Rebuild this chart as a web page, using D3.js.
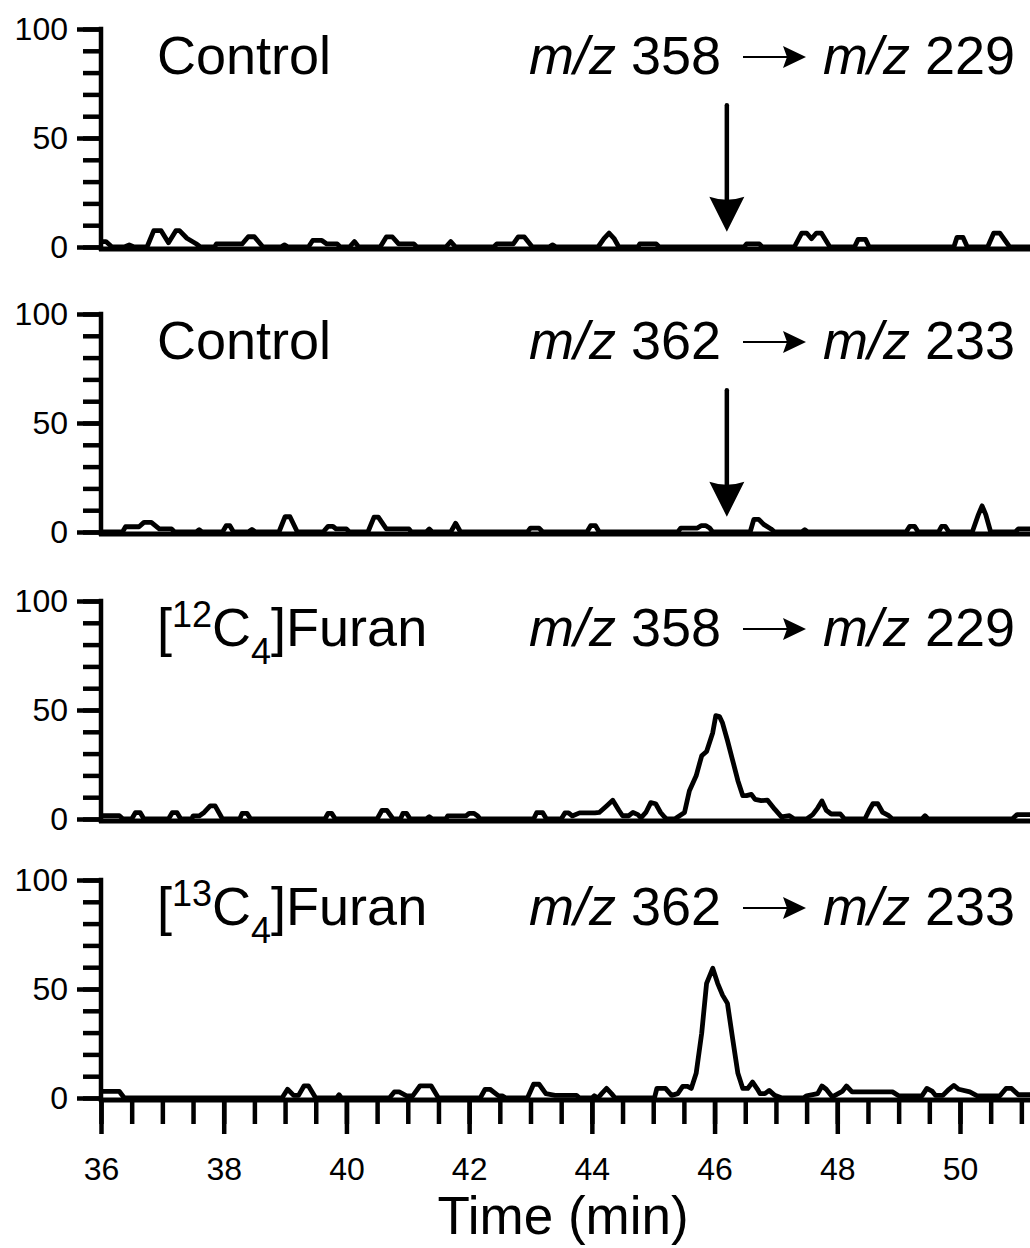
<!DOCTYPE html>
<html>
<head>
<meta charset="utf-8">
<script src="https://cdn.jsdelivr.net/npm/d3@7"></script>
<style>
  body { margin: 0; background: #fff; }
  text { font-family: 'Liberation Sans', Arial, sans-serif; fill: #000; }
</style>
</head>
<body>
<div id="chart"></div>
<script>
// time (min), relative abundance (%)
var control358 = [[36.0,2.5],[36.08,2.5],[36.18,0],[36.38,0],[36.46,1],[36.54,0],[36.75,0],[36.86,7.5],[36.98,7.5],[37.1,2],[37.22,7.5],[37.28,7.5],[37.4,4],[37.55,1.5],[37.62,0],[37.85,0],[37.88,1.4],[38.3,1.4],[38.4,4.7],[38.5,4.7],[38.64,0],[38.93,0],[38.99,1],[39.05,0],[39.38,0],[39.45,3],[39.6,3],[39.68,1.4],[39.85,1.4],[39.9,0],[40.05,0],[40.13,2.5],[40.2,0],[40.55,0],[40.65,4.6],[40.75,4.6],[40.85,1.4],[41.1,1.4],[41.15,0],[41.62,0],[41.7,2.5],[41.78,0],[42.4,0],[42.45,1.4],[42.72,1.4],[42.8,4.6],[42.9,4.6],[43.03,0],[43.3,0],[43.36,1],[43.42,0],[44.1,0],[44.2,4],[44.28,6.4],[44.36,4],[44.44,0],[44.75,0],[44.78,1.4],[45.05,1.4],[45.1,0],[46.48,0],[46.52,1.4],[46.73,1.4],[46.78,0],[47.3,0],[47.42,6.4],[47.5,6.4],[47.58,3.8],[47.66,6.4],[47.74,6.4],[47.88,0],[48.28,0],[48.34,3.5],[48.46,3.5],[48.52,0],[49.9,0],[49.95,4.4],[50.05,4.4],[50.12,0],[50.45,0],[50.55,6.4],[50.65,6.4],[50.81,0],[51.2,0]];

var control362 = [[36.0,0],[36.35,0],[36.4,2.4],[36.62,2.4],[36.7,4.4],[36.82,4.4],[36.95,1.4],[37.15,1.4],[37.2,0],[37.55,0],[37.6,1],[37.65,0],[37.98,0],[38.04,2.9],[38.1,2.9],[38.16,0],[38.4,0],[38.46,1.2],[38.52,0],[38.9,0],[39.0,7],[39.08,7],[39.2,0],[39.62,0],[39.7,2.6],[39.78,2.6],[39.83,1.4],[40.0,1.4],[40.05,0],[40.35,0],[40.45,6.8],[40.52,6.8],[40.65,1.4],[41.02,1.4],[41.06,0],[41.3,0],[41.35,1.4],[41.4,0],[41.7,0],[41.78,4],[41.86,0],[42.95,0],[43.0,1.8],[43.14,1.8],[43.2,0],[43.92,0],[43.98,2.9],[44.06,2.9],[44.12,0],[45.4,0],[45.45,1.8],[45.72,1.8],[45.78,2.9],[45.86,2.9],[45.92,1.8],[45.97,0],[46.58,0],[46.64,5.8],[46.72,5.8],[46.8,3.5],[46.92,1.4],[46.98,0],[47.42,0],[47.47,1],[47.52,0],[49.12,0],[49.18,2.6],[49.26,2.6],[49.32,0],[49.65,0],[49.7,2.6],[49.76,2.6],[49.82,0],[50.2,0],[50.3,8],[50.36,12],[50.42,8],[50.5,0],[50.9,0],[50.95,1.4],[51.2,1.4]];

var furan12 = [[36.0,1.5],[36.3,1.5],[36.36,0],[36.5,0],[36.56,2.9],[36.64,2.9],[36.7,0],[37.1,0],[37.16,2.9],[37.24,2.9],[37.3,0],[37.48,0],[37.5,1.4],[37.6,1.4],[37.68,3],[37.78,6],[37.86,6],[37.98,0],[38.26,0],[38.3,2.6],[38.38,2.6],[38.44,0],[39.65,0],[39.7,2.6],[39.76,2.6],[39.82,0],[40.5,0],[40.58,4],[40.66,4],[40.76,0],[40.88,0],[40.92,2.6],[40.98,2.6],[41.04,0],[41.3,0],[41.35,1],[41.4,0],[41.62,0],[41.65,1.4],[41.95,1.4],[42.0,2.6],[42.08,2.6],[42.14,1.4],[42.18,0],[43.05,0],[43.1,2.9],[43.2,2.9],[43.26,0],[43.5,0],[43.56,2.8],[43.62,2.8],[43.68,1.4],[43.8,2.8],[44.05,2.8],[44.12,3],[44.24,6],[44.34,8.6],[44.44,4],[44.5,1.5],[44.6,1.5],[44.67,3],[44.75,2],[44.8,0.5],[44.88,3],[44.96,7.5],[45.04,7],[45.12,3],[45.18,1],[45.22,0],[45.35,0],[45.43,1.5],[45.51,3],[45.59,13],[45.7,19.8],[45.79,29],[45.87,31],[45.97,39.6],[46.02,47.4],[46.08,47],[46.13,44],[46.21,36],[46.29,27.4],[46.38,17.6],[46.46,10.7],[46.52,10.7],[46.6,11.3],[46.66,9],[46.76,8.4],[46.86,8.7],[46.98,4.5],[47.09,1],[47.22,1.5],[47.3,0],[47.5,0],[47.6,2],[47.68,5],[47.75,8.3],[47.82,4],[47.9,2.3],[48.05,2.3],[48.12,0],[48.45,0],[48.52,4],[48.58,7],[48.66,7],[48.74,3],[48.84,1.5],[48.9,0],[49.38,0],[49.43,1.5],[49.48,0],[50.85,0],[50.93,2],[51.2,2]];

var furan13 = [[36.0,3],[36.3,3],[36.38,0],[38.95,0],[39.04,4],[39.14,1.2],[39.22,1.2],[39.31,5.6],[39.38,5.6],[39.5,0],[39.84,0],[39.88,1.5],[39.92,0],[40.7,0],[40.78,2.8],[40.86,2.8],[40.98,1],[41.08,1],[41.2,5.6],[41.38,5.6],[41.5,0],[42.18,0],[42.26,4],[42.34,4],[42.48,1],[42.54,1],[42.6,0],[42.95,0],[43.05,6.3],[43.14,6.3],[43.25,2],[43.4,1.2],[43.75,1.2],[43.8,0],[44.0,0],[44.04,1],[44.1,0],[44.16,2],[44.24,4.4],[44.32,2],[44.38,0],[45.02,0],[45.06,4.4],[45.2,4.4],[45.3,1.2],[45.4,2],[45.48,5.3],[45.56,5.3],[45.62,4.4],[45.7,11.3],[45.79,29.7],[45.87,52.6],[45.97,59.5],[46.05,52.6],[46.13,47.2],[46.21,43.4],[46.29,28],[46.38,11.3],[46.46,4.4],[46.54,4.4],[46.62,7.3],[46.7,4],[46.74,2],[46.82,2],[46.89,3.5],[46.98,1.2],[47.1,0],[47.45,0],[47.5,1],[47.68,2],[47.75,5.5],[47.82,4],[47.92,0.5],[48.08,3],[48.15,5.5],[48.24,2.8],[48.9,2.8],[49.0,1],[49.38,1],[49.46,4.4],[49.55,3],[49.6,1.2],[49.72,1.2],[49.82,4],[49.9,5.8],[49.98,4],[50.16,2.8],[50.28,1],[50.65,1],[50.75,4.4],[50.84,4.4],[50.95,1.5],[51.2,1.5]];

var traces = [control358, control362, furan12, furan13];
var sampleNames = ["Control", "Control", "Furan", "Furan"];
var isotopeLabels = [null, null, "12", "13"];
var precursorIons = ["358", "362", "358", "362"];
var productIons = ["229", "233", "229", "233"];
var markedPanels = [0, 1];          // panels with the downward arrow
var markTime = 46.2, markFrom = 65, markTo = 7;
var yMajorTicks = [0, 50, 100];
var yMinorTicks = [0, 10, 20, 30, 40, 50, 60, 70, 80, 90, 100];
var xMajorTicks = [36, 38, 40, 42, 44, 46, 48, 50];
var xMinorTicks = [36, 36.5, 37, 37.5, 38, 38.5, 39, 39.5, 40, 40.5, 41, 41.5, 42, 42.5, 43, 43.5, 44, 44.5, 45, 45.5, 46, 46.5, 47, 47.5, 48, 48.5, 49, 49.5, 50, 50.5, 51];
var xLabel = "Time (min)";

var w = 1030, h = 1248;
var panelTops = [29, 314, 601, 880], panelH = 218;
var axisX = 101;

var svg = d3.select("#chart").append("svg")
  .attr("width", w).attr("height", h);

var x = d3.scaleLinear().domain([36, 50]).range([axisX, 960]);

function styleAxis(g, width) {
  g.select(".domain").remove();
  g.selectAll("line").attr("stroke", "#000").attr("stroke-width", width);
  g.attr("font-family", null).attr("font-size", null);
}

traces.forEach(function(data, i) {
  var top = panelTops[i];
  var y = d3.scaleLinear().domain([0, 100]).range([top + panelH, top]);
  var g = svg.append("g");

  // y axis, minor + major ticks
  g.append("g").attr("transform", "translate(" + axisX + ",0)")
    .call(d3.axisLeft(y).tickValues(yMinorTicks).tickSize(18).tickFormat(""))
    .call(styleAxis, 4.5);
  g.append("g").attr("transform", "translate(" + axisX + ",0)")
    .call(d3.axisLeft(y).tickValues(yMajorTicks).tickSize(24).tickPadding(9))
    .call(styleAxis, 4.5)
    .selectAll("text").style("font-size", "32px");

  g.append("line")
    .attr("x1", axisX).attr("x2", axisX)
    .attr("y1", y(100) - 2.25).attr("y2", y(0) + 4)
    .attr("stroke", "#000").attr("stroke-width", 4.5);

  // baseline / x axis
  g.append("line")
    .attr("x1", axisX - 2).attr("x2", w)
    .attr("y1", y(0) + 2).attr("y2", y(0) + 2)
    .attr("stroke", "#000").attr("stroke-width", 5);

  if (i === traces.length - 1) {
    g.append("g").attr("transform", "translate(0," + (y(0) + 2) + ")")
      .call(d3.axisBottom(x).tickValues(xMinorTicks).tickSize(24).tickFormat(""))
      .call(styleAxis, 4.5);
    g.append("g").attr("transform", "translate(0," + (y(0) + 2) + ")")
      .call(d3.axisBottom(x).tickValues(xMajorTicks).tickSize(34).tickPadding(23))
      .call(styleAxis, 4.5)
      .selectAll("text").style("font-size", "32px");
  }

  // trace
  var line = d3.line()
    .x(function(d) { return x(d[0]); })
    .y(function(d) { return y(d[1]); });
  g.append("path")
    .datum(data)
    .attr("d", line)
    .attr("fill", "none")
    .attr("stroke", "#000")
    .attr("stroke-width", 4.8)
    .attr("stroke-linejoin", "round");

  // sample label
  var base = y(100) + 45;
  var t = g.append("text").attr("x", 157).attr("y", base).style("font-size", "54px");
  if (isotopeLabels[i]) {
    t.append("tspan").text("[");
    t.append("tspan").text(isotopeLabels[i]).style("font-size", "36px").attr("dy", -19);
    t.append("tspan").text("C").style("font-size", "54px").attr("dy", 19);
    t.append("tspan").text("4").style("font-size", "36px").attr("dy", 18);
    t.append("tspan").text("]" + sampleNames[i]).style("font-size", "54px").attr("dy", -18);
  } else {
    t.text(sampleNames[i]);
  }

  // transition label
  var t1 = g.append("text").attr("x", 721).attr("y", base)
    .attr("text-anchor", "end").style("font-size", "54px");
  t1.append("tspan").text("m/z").style("font-style", "italic");
  t1.append("tspan").text(" " + precursorIons[i]);
  var t2 = g.append("text").attr("x", 1015).attr("y", base)
    .attr("text-anchor", "end").style("font-size", "54px");
  t2.append("tspan").text("m/z").style("font-style", "italic");
  t2.append("tspan").text(" " + productIons[i]);

  var ay = base - 17;
  g.append("line").attr("x1", 743).attr("x2", 788).attr("y1", ay).attr("y2", ay)
    .attr("stroke", "#000").attr("stroke-width", 2);
  g.append("path")
    .attr("d", "M806," + ay + "L783," + (ay - 11) + "L787," + ay + "L783," + (ay + 11) + "Z")
    .attr("fill", "#000");

  // downward arrow pointing at expected retention time
  if (markedPanels.indexOf(i) >= 0) {
    var ax = x(markTime), tip = y(markTo), head = 35;
    g.append("line")
      .attr("x1", ax).attr("x2", ax)
      .attr("y1", y(markFrom)).attr("y2", tip - head + 6)
      .attr("stroke", "#000").attr("stroke-width", 4.5)
      .attr("stroke-linecap", "round");
    g.append("path")
      .attr("d", "M" + ax + "," + tip + "L" + (ax - 17.5) + "," + (tip - head) +
        "Q" + ax + "," + (tip - head + 6) + " " + (ax + 17.5) + "," + (tip - head) + "Z")
      .attr("fill", "#000");
  }
});

svg.append("text")
  .attr("x", 563).attr("y", 1234)
  .attr("text-anchor", "middle")
  .style("font-size", "53px")
  .text(xLabel);
</script>
</body>
</html>
